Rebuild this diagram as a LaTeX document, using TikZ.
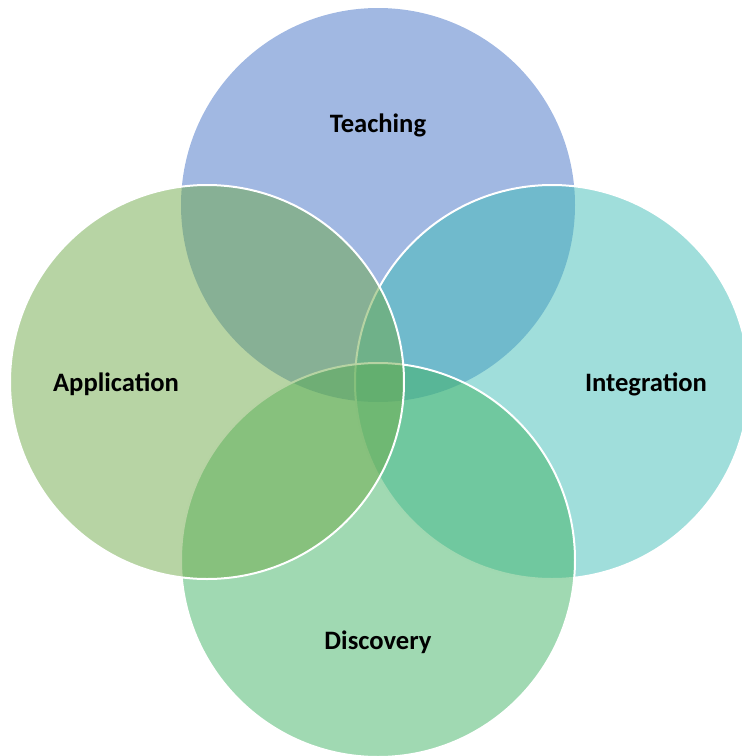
\documentclass[tikz,border=0pt]{standalone}
\usepackage{fontspec}
\setmainfont{Carlito}
\definecolor{teachC}{RGB}{67,113,197}
\definecolor{intC}{RGB}{65,189,183}
\definecolor{disC}{RGB}{65,179,101}
\definecolor{appC}{RGB}{111,169,73}
\begin{document}
\begin{tikzpicture}[x=1pt,y=-1pt,
  vennfill/.style={fill opacity=0.5},
  vennline/.style={fill opacity=0.5, draw=white, line width=2pt},
  lbl/.style={font=\bfseries\fontsize{26.6}{30}\selectfont, text=black, anchor=base, inner sep=0pt}]
\useasboundingbox (0,0) rectangle (742,756);
\clip (0,0) rectangle (742,756);
\fill[vennfill, teachC] (378,205) circle[radius=197pt];
\filldraw[vennline, fill=intC] (552,382) circle[radius=197pt];
\filldraw[vennline, fill=disC] (378,560) circle[radius=197pt];
\filldraw[vennline, fill=appC] (207,382) circle[radius=197pt];
\node[lbl] (teaching) at (378,132) {Teaching};
\node[lbl] (integration) at (646,391) {Integration};
\node[lbl] (discovery) at (378,649) {Discovery};
\node[lbl] (application) at (116,391) {Application};
\end{tikzpicture}
\end{document}
